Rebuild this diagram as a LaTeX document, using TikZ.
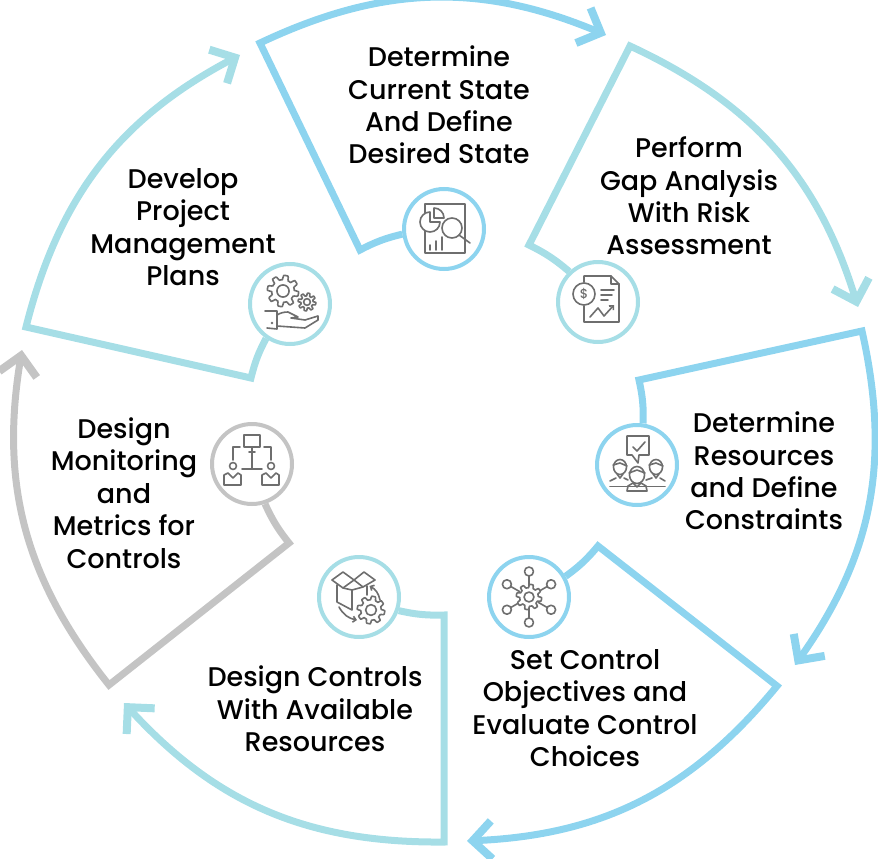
\documentclass[tikz,border=0pt]{standalone}
\usepackage{fontspec}
\usepackage{tikz}
\usetikzlibrary{arrows.meta}
\setmainfont{Poppins Medium}
\definecolor{skyline}{HTML}{8DD4EF}
\definecolor{tealline}{HTML}{A6DEE6}
\definecolor{greyline}{HTML}{C4C4C4}
\definecolor{iconline}{HTML}{6E6E6E}
\tikzset{
    ring/.style={circle, draw=#1, fill=white, line width=4pt, minimum size=80pt, inner sep=0pt},
    wheel/.style={draw=#1, line width=7pt, line join=miter, miter limit=10,
        -{Straight Barb[length=19pt, width=38pt, line width=8pt, sharp, line cap=butt]}},
    caption/.style={align=center, font=\fontsize{27}{32.4}\selectfont, inner sep=0pt},
    icon/.style={draw=iconline, line width=1.6pt, line join=round, line cap=round}
}
% x y r a: gear outline with a hub
\newcommand{\gearicon}[4]{
    \draw[icon, fill=white] plot[domain=0:360, samples=121] ({#1+(#3+#4*max(min(2.5*sin(8*\x),1),-1))*cos(\x)}, {#2+(#3+#4*max(min(2.5*sin(8*\x),1),-1))*sin(\x)}) -- cycle;
    \draw[icon] (#1,#2) circle[radius=#3*0.45pt];
}

\begin{document}
\begin{tikzpicture}[x=1pt, y=-1pt]
    \useasboundingbox (0,0) rectangle (878,859);

    % rings
    \node[ring=skyline] (icona) at (444,229) {};
    \node[ring=tealline] (iconb) at (598,302) {};
    \node[ring=skyline] (iconc) at (637,465) {};
    \node[ring=skyline] (icond) at (529,597) {};
    \node[ring=tealline] (icone) at (359,597) {};
    \node[ring=greyline] (iconf) at (252,464) {};
    \node[ring=tealline] (icong) at (290,304) {};

    % labels
    \node[caption] (texta) at (439,105) {Determine\\Current State\\And Define\\Desired State};
    \node[caption] (textb) at (689,196) {Perform\\Gap Analysis\\With Risk\\Assessment};
    \node[caption] (textc) at (764,471) {Determine\\Resources\\and Define\\Constraints};
    \node[caption] (textd) at (585,708) {Set Control\\Objectives and\\Evaluate Control\\Choices};
    \node[caption] (texte) at (315,709) {Design Controls\\With Available\\Resources};
    \node[caption] (textf) at (124,493) {Design\\Monitoring\\and\\Metrics for\\Controls};
    \node[caption] (textg) at (183,227) {Develop\\Project\\Management\\Plans};

    % corners and tips
    \coordinate (kneea) at (360,250);
    \coordinate (starta) at (260,43);
    \coordinate (tipa) at (606,35);
    \coordinate (kneeb) at (529,245);
    \coordinate (startb) at (630,46);
    \coordinate (tipb) at (858,307);
    \coordinate (kneec) at (639,380);
    \coordinate (startc) at (862,331);
    \coordinate (tipc) at (795,665);
    \coordinate (kneed) at (598,546);
    \coordinate (startd) at (777,686);
    \coordinate (tipd) at (467,841);
    \coordinate (kneee) at (444,615);
    \coordinate (starte) at (444,842);
    \coordinate (tipe) at (124,703);
    \coordinate (kneef) at (289,543);
    \coordinate (startf) at (109,685);
    \coordinate (tipf) at (22,350);
    \coordinate (kneeg) at (251,378);
    \coordinate (startg) at (26,327);
    \coordinate (tipg) at (240,55);

    % wheel
    \draw[wheel=skyline] (icona) to[bend right=7] (kneea) -- (starta) to[bend left=24] (tipa);
    \draw[wheel=tealline] (iconb) to[bend right=7] (kneeb) -- (startb) to[bend left=24] (tipb);
    \draw[wheel=skyline] (iconc) to[bend right=7] (kneec) -- (startc) to[bend left=24] (tipc);
    \draw[wheel=skyline] (icond) to[bend right=7] (kneed) -- (startd) to[bend left=24] (tipd);
    \draw[wheel=tealline] (icone) to[bend right=7] (kneee) -- (starte) to[bend left=24] (tipe);
    \draw[wheel=greyline] (iconf) to[bend right=7] (kneef) -- (startf) to[bend left=24] (tipf);
    \draw[wheel=tealline] (icong) to[bend right=7] (kneeg) -- (startg) to[bend left=24] (tipg);

    % report with pie and lens
    \begin{scope}[shift={(icona.center)}]
        \draw[icon] (-19,-25) rectangle (21,24);
        \draw[icon, fill=white] (-14,-17) arc[start angle=90, delta angle=270, radius=10pt] -- (-14,-7) -- cycle;
        \draw[icon, fill=white] (-10,-21) arc[start angle=90, delta angle=-90, radius=10pt] -- (-10,-11) -- cycle;
        \draw[icon, fill=white] (8,-1) circle[radius=10pt];
        \draw[icon] (15,6) -- (26,14);
        \foreach \barx/\bary in {-14/16, -8/12, -2/8}
            \draw[icon] (\barx,\bary) -- (\barx,21);
    \end{scope}

    % invoice with dollar and chart
    \begin{scope}[shift={(iconb.center)}]
        \draw[icon] (-14,-20) -- (-14,-26) -- (13,-26) -- (21,-18) -- (21,20) -- (-14,20) -- (-14,4);
        \draw[icon] (13,-26) -- (13,-18) -- (21,-18);
        \draw[icon, fill=white] (-14,-8) circle[radius=11pt];
        \node[text=iconline, font=\fontsize{13}{13}\selectfont, inner sep=0pt] (dollar) at (-14,-8) {\$};
        \draw[icon] (3,-12) -- (16,-12) (3,-7) -- (14,-7) (3,-2) -- (10,-2);
        \draw[icon, -{Straight Barb[length=3pt, width=6pt]}] (-8,15) -- (0,6) -- (6,14) -- (16,3);
    \end{scope}

    % team with checked bubble
    \begin{scope}[shift={(iconc.center)}]
        \draw[icon] (-5,-10) -- (-10,-10) -- (-10,-29) -- (12,-29) -- (12,-10) -- (2,-10) -- (1,-2) -- cycle;
        \draw[icon] (-4,-18) -- (0,-14) -- (8,-23);
        \foreach \headx in {-17, 19} {
            \draw[icon] (\headx,2) ellipse[x radius=6.5pt, y radius=7.5pt];
            \draw[icon] (\headx-7,0) -- (\headx,-2) -- (\headx+7,1);
            \draw[icon] (\headx-3,9) -- (\headx,13) -- (\headx+3,9);
        }
        \draw[icon] (-27,16) -- (-21,13) (-13,13) -- (-9,15) (9,15) -- (15,13) (23,13) -- (28,16);
        \draw[icon, fill=white] (0,10) ellipse[x radius=7.5pt, y radius=8.5pt];
        \draw[icon] (-8,8) -- (0,5) -- (8,8);
        \draw[icon] (-27,21.5) -- (28,21.5);
        \draw[icon] (-10,26) -- (-9,21) -- (-4,18) -- (0,22) -- (4,18) -- (9,21) -- (10,26) -- cycle;
    \end{scope}

    % gear with satellites
    \begin{scope}[shift={(icond.center)}]
        \foreach \spoke in {30, 90, 150, 210, 270, 330} {
            \draw[icon] (\spoke:11) -- (\spoke:21);
            \draw[icon, fill=white] (\spoke:25.5) circle[radius=4.5pt];
        }
        \gearicon{0}{0}{11}{1.7}
    \end{scope}

    % open box with gear
    \begin{scope}[shift={(icone.center)}]
        \draw[icon] (-27,-17) -- (-16,-25) -- (-5,-17) -- (-16,-9) -- cycle;
        \draw[icon] (-5,-17) -- (5,-25) -- (16,-17) -- (4,-10) -- cycle;
        \draw[icon] (-22,-12) -- (-22,5) -- (-7,13) -- (-7,-7) -- (-16,-9);
        \draw[icon] (-7,-7) -- (4,-10) (8,-11) -- (8,-2);
        \draw[icon, -{Straight Barb[length=3pt, width=6pt]}] (21,3) to[bend right=25] (10.5,-11);
        \draw[icon, -{Straight Barb[length=3pt, width=6pt]}] (-20,10) to[bend right=25] (-2,23);
        \gearicon{12}{13}{12}{1.8}
    \end{scope}

    % org chart
    \begin{scope}[shift={(iconf.center)}]
        \draw[icon] (-8,-29) rectangle (8,-17);
        \draw[icon] (0,-17) -- (0,5) (-3,-12) -- (3,-12) (-10,5) -- (10,5);
        \draw[icon] (-12,-17) -- (-19,-17) -- (-19,-4);
        \draw[icon] (12,-17) -- (19,-17) -- (19,-4);
        \foreach \mate in {0, 38} {
            \draw[icon] (-19+\mate,2) circle[radius=3.5pt];
            \draw[icon] (-28+\mate,11) -- (-24+\mate,9) -- (-19+\mate,14) -- (-14+\mate,9) -- (-11+\mate,11) -- (-11+\mate,21) -- (-28+\mate,21) -- cycle;
        }
    \end{scope}

    % hand with gears
    \begin{scope}[shift={(icong.center)}]
        \gearicon{-7}{-13}{13.5}{2.2}
        \gearicon{17}{-2}{7.5}{1.4}
        \draw[icon] (-25,7) -- (-13,7) -- (-13,25) -- (-23,24);
        \fill[iconline] (-18,19) circle[radius=1.3pt];
        \draw[icon] (-13,11) to[bend left=15] (-2,8) -- (8,13) -- (1,14) (1,14) -- (15,16) -- (28,12) -- (28,16) -- (15,24) -- (-13,22);
    \end{scope}
\end{tikzpicture}
\end{document}
